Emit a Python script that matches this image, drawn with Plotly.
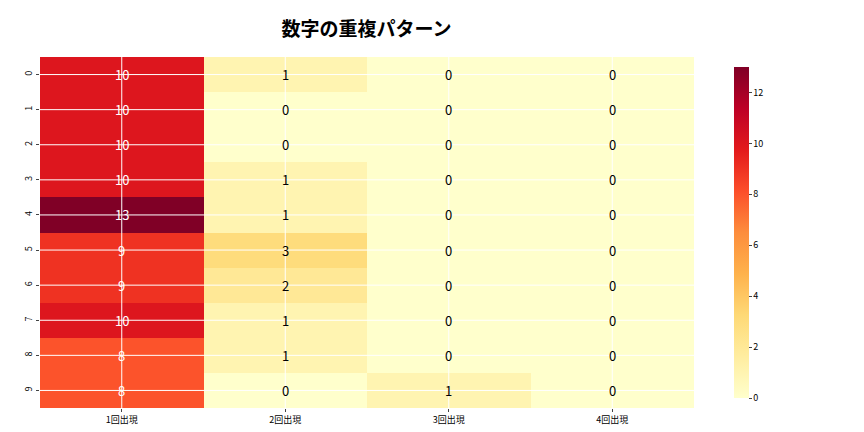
import plotly.graph_objects as go

cols = ["1回出現", "2回出現", "3回出現", "4回出現"]
rows = [str(i) for i in range(10)]
vals = [[10,1,0,0],[10,0,0,0],[10,0,0,0],[10,1,0,0],[13,1,0,0],
        [9,3,0,0],[9,2,0,0],[10,1,0,0],[8,1,0,0],[8,0,1,0]]

cs = ["#ffffcc","#ffeda0","#fed976","#feb24c","#fd8d3c","#fc4e2a","#e31a1c","#bd0026","#800026"]
colorscale = [[i/8, c] for i, c in enumerate(cs)]

fig = go.Figure(go.Heatmap(z=vals, x=cols, y=rows, colorscale=colorscale, zmin=0, zmax=13,
    colorbar=dict(thickness=15, len=1, y=0.5, yanchor="middle", x=1.061, xpad=0, outlinewidth=0,
                  tickvals=[0,2,4,6,8,10,12], tickfont=dict(size=9), ticks="outside", ticklen=3)))
ann = []
for r, row in zip(rows, vals):
    for c, v in zip(cols, row):
        ann.append(dict(x=c, y=r, text=str(v), showarrow=False,
                        font=dict(size=13, color="white" if v >= 7 else "black")))
shapes = []
for c in cols:
    shapes.append(dict(type="line", xref="x", yref="paper", x0=c, x1=c, y0=0, y1=1,
                       line=dict(color="white", width=1), layer="above"))
for r in rows:
    shapes.append(dict(type="line", xref="paper", yref="y", x0=0, x1=1, y0=r, y1=r,
                       line=dict(color="white", width=1), layer="above"))
fig.update_layout(
    width=864, height=432, plot_bgcolor="white", paper_bgcolor="white",
    font=dict(family="Noto Sans CJK JP, DejaVu Sans", color="black"),
    title=dict(text="<b>数字の重複パターン</b>", x=0.415, xanchor="center", y=0.95, yanchor="middle", font=dict(size=19)),
    margin=dict(l=32, r=178, t=49, b=32, autoexpand=False),
    annotations=ann, shapes=shapes,
    xaxis=dict(showgrid=False, tickfont=dict(size=9), ticks="outside", ticklen=3, automargin=False),
    yaxis=dict(autorange="reversed", showgrid=False, automargin=False,
               tickfont=dict(size=9), tickangle=-90, ticks="outside", ticklen=3),
)
fig.write_html("out.html")
